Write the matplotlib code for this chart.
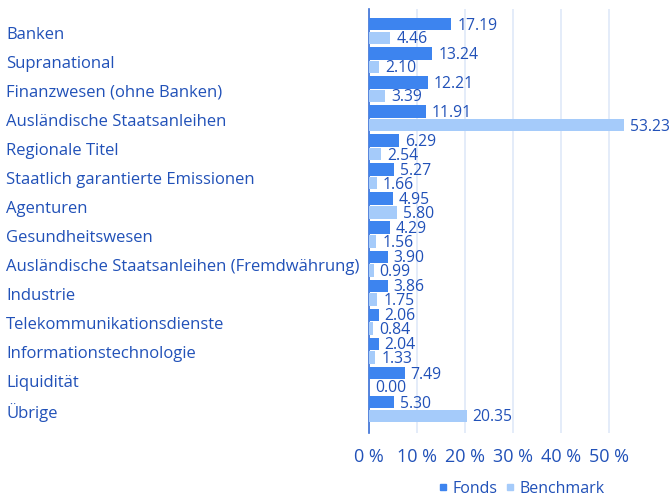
import matplotlib
matplotlib.use("Agg")
import matplotlib.pyplot as plt
import matplotlib.transforms as mtransforms
from matplotlib.lines import Line2D

categories = ["Banken", "Supranational", "Finanzwesen (ohne Banken)", "Ausländische Staatsanleihen",
              "Regionale Titel", "Staatlich garantierte Emissionen", "Agenturen", "Gesundheitswesen",
              "Ausländische Staatsanleihen (Fremdwährung)", "Industrie", "Telekommunikationsdienste",
              "Informationstechnologie", "Liquidität", "Übrige"]
fonds = [17.19, 13.24, 12.21, 11.91, 6.29, 5.27, 4.95, 4.29, 3.90, 3.86, 2.06, 2.04, 7.49, 5.30]
benchmark = [4.46, 2.10, 3.39, 53.23, 2.54, 1.66, 5.80, 1.56, 0.99, 1.75, 0.84, 1.33, 0.00, 20.35]
xticks = [0, 10, 20, 30, 40, 50]
xticklabels = ["0 %", "10 %", "20 %", "30 %", "40 %", "50 %"]
series_names = ["Fonds", "Benchmark"]

plt.rcParams['font.family'] = ['Open Sans', 'DejaVu Sans']
TEXT = "#2151b8"
C_F = "#3d84ef"
C_B = "#a5cbfa"

fig = plt.figure(figsize=(6.7, 4.98), dpi=100)
ax = fig.add_axes([369/670, 65/498, 278/670, 424/498])

y = list(range(len(categories)))
h = 0.43
off = 0.235
ax.barh([v - off for v in y], fonds, height=h, color=C_F, zorder=3)
ax.barh([v + off for v in y], benchmark, height=h, color=C_B, zorder=3)

fs = 12
vfs = 11.3
for i, (f, b) in enumerate(zip(fonds, benchmark)):
    ax.text(f + 1.2, i - off + 0.05, f"{f:.2f}", va="center", ha="left", fontsize=vfs, color=TEXT)
    ax.text(b + 1.2, i + off + 0.05, f"{b:.2f}", va="center", ha="left", fontsize=vfs, color=TEXT)

ax.set_ylim(13.825, -0.757)
ax.set_xlim(0, 58)
ax.set_xticks(xticks)
ax.set_xticklabels(xticklabels, fontsize=13, color=TEXT)
ax.tick_params(axis="x", length=0, pad=11)
ax.set_yticks(y)
ax.set_yticklabels([])
ax.tick_params(axis="y", length=0)
trans = mtransforms.blended_transform_factory(fig.transFigure, ax.transData)
for i, c in enumerate(categories):
    fig.text(6/670, i + 0.12, c, transform=trans, fontsize=fs, color=TEXT, ha="left", va="center")

for s in ["top", "right", "bottom"]:
    ax.spines[s].set_visible(False)
ax.spines["left"].set_color("#3a6fd6")
ax.spines["left"].set_linewidth(1.2)
ax.grid(axis="x", color="#dfe9f8", linewidth=1.2, zorder=0)
ax.set_axisbelow(True)

handles = [Line2D([], [], marker="s", linestyle="", markersize=4, color=C_F),
           Line2D([], [], marker="s", linestyle="", markersize=4, color=C_B)]
leg = fig.legend(handles, series_names, loc="center", bbox_to_anchor=(522/670, 1 - 489/498), ncol=2,
                 frameon=False, fontsize=11.5, handlelength=0.5, handletextpad=0.35, columnspacing=0.5)
for t in leg.get_texts():
    t.set_color(TEXT)

fig.savefig("out.png", dpi=100)
